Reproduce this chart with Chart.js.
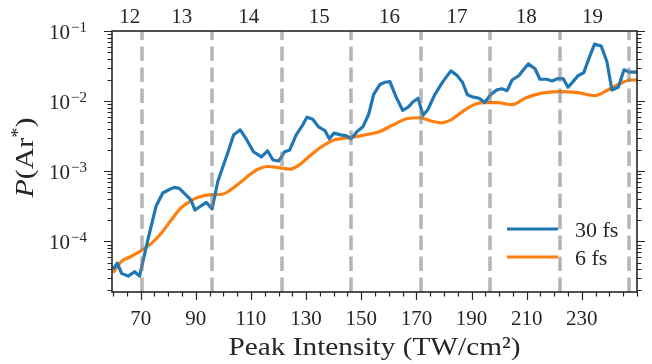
<!DOCTYPE html>
<html>
<head>
<meta charset="utf-8">
<script src="https://cdn.jsdelivr.net/npm/chart.js@4.4.0/dist/chart.umd.min.js"></script>
<style>
  html, body { margin: 0; padding: 0; background: #fff; }
  #wrap { width: 652px; height: 364px; }
</style>
</head>
<body>
<div id="wrap"><canvas id="probChart" width="652" height="364"></canvas></div>
<script>
// Excitation probability P(Ar*) vs peak intensity for two pulse durations

// 30 fs pulse
const intensity30 = [60.0, 61.5, 63.1, 65.5, 67.8, 69.6, 72.6, 75.6, 78.0, 80.4, 82.2, 84.0, 86.4, 88.2, 89.7, 91.8, 93.8, 95.9, 98.0, 101.9,
  103.7, 106.1, 108.5, 110.9, 113.8, 116.0, 118.0, 120.1, 122.2, 124.0, 126.4, 128.8, 130.3, 132.4, 134.5, 136.8, 138.4, 140.1, 142.5, 144.6,
  146.3, 148.5, 150.6, 152.7, 154.5, 156.8, 158.6, 160.4, 162.6, 165.0, 167.0, 168.8, 170.6, 172.4, 174.2, 176.6, 179.6, 182.5, 184.6, 186.7,
  188.5, 190.3, 192.7, 194.8, 196.9, 199.2, 201.0, 202.9, 204.7, 207.1, 208.8, 210.6, 213.0, 214.8, 217.2, 219.2, 221.4, 223.2, 225.0, 226.8,
  228.6, 230.7, 232.4, 234.6, 237.0, 239.1, 240.9, 243.2, 245.3, 247.1, 250.5];
const prob30 = [4.0e-5, 4.9e-5, 3.5e-5, 3.2e-5, 3.7e-5, 3.2e-5, 1.05e-4, 3.2e-4, 4.9e-4, 5.5e-4, 5.9e-4, 5.7e-4, 4.6e-4, 3.9e-4, 2.8e-4, 3.2e-4, 3.6e-4, 2.9e-4, 7.2e-4, 2.0e-3,
  3.3e-3, 3.9e-3, 2.8e-3, 1.9e-3, 1.6e-3, 1.96e-3, 1.45e-3, 1.4e-3, 1.9e-3, 2.0e-3, 3.3e-3, 4.6e-3, 5.9e-3, 5.5e-3, 4.3e-3, 3.8e-3, 2.9e-3, 3.5e-3, 3.3e-3, 3.2e-3,
  2.9e-3, 3.7e-3, 4.3e-3, 6.5e-3, 1.25e-2, 1.73e-2, 1.86e-2, 1.9e-2, 1.15e-2, 7.4e-3, 8.2e-3, 9.8e-3, 1.1e-2, 6.3e-3, 7.6e-3, 1.23e-2, 1.9e-2, 2.7e-2, 2.35e-2, 1.86e-2,
  1.23e-2, 1.15e-2, 1.1e-2, 9.6e-3, 1.23e-2, 1.45e-2, 1.5e-2, 1.41e-2, 2.0e-2, 2.3e-2, 2.8e-2, 3.4e-2, 2.9e-2, 2.05e-2, 2.05e-2, 1.94e-2, 2.1e-2, 2.1e-2, 1.58e-2, 1.9e-2,
  2.3e-2, 2.55e-2, 3.9e-2, 6.5e-2, 6.1e-2, 3.65e-2, 1.44e-2, 1.58e-2, 2.8e-2, 2.6e-2, 2.6e-2];

// 6 fs pulse
const intensity6 = [60.0, 63.1, 66.1, 70.2, 73.8, 77.4, 81.0, 84.6, 88.2, 91.1, 94.7, 99.5, 103.1, 106.7, 109.6, 112.7, 116.2, 120.5, 124.0, 127.3,
  131.3, 135.3, 140.1, 144.9, 149.7, 154.0, 156.8, 161.6, 166.4, 171.2, 175.4, 179.0, 182.5, 186.7, 191.5, 195.1, 199.5, 204.7, 209.4, 215.4,
  221.4, 228.6, 234.6, 239.4, 244.1, 247.7, 250.5];
const prob6 = [3.6e-5, 5.2e-5, 6.0e-5, 7.4e-5, 9.3e-5, 1.3e-4, 2.0e-4, 3.0e-4, 3.8e-4, 4.3e-4, 4.6e-4, 4.7e-4, 5.6e-4, 7.2e-4, 9.0e-4, 1.08e-3, 1.17e-3, 1.12e-3, 1.07e-3, 1.22e-3,
  1.65e-3, 2.2e-3, 2.8e-3, 3.0e-3, 3.2e-3, 3.45e-3, 3.7e-3, 4.6e-3, 5.6e-3, 5.8e-3, 5.2e-3, 4.9e-3, 5.4e-3, 7.1e-3, 9.1e-3, 9.5e-3, 9.5e-3, 8.9e-3, 1.1e-2, 1.3e-2,
  1.37e-2, 1.32e-2, 1.2e-2, 1.44e-2, 1.8e-2, 2.0e-2, 2.0e-2];

const seriesLabels = ['30 fs', '6 fs'];

// axis ticks
const xTickLabels = [70, 90, 110, 130, 150, 170, 190, 210, 230];
const yDecades = [-4, -3, -2, -1];

// channel closings (dashed lines) and photon order labels on the top axis
const channelClosings = [70.6, 95.8, 121.1, 146.2, 171.5, 196.6, 222.2, 247.1];
const photonOrders = ['12', '13', '14', '15', '16', '17', '18', '19'];
const photonOrderPos = [66.0, 84.9, 109.2, 134.8, 160.2, 184.7, 209.8, 233.9];

const X_MIN = 59.6, X_MAX = 250;
const Y_MIN = 1.9e-5, Y_MAX = 0.1;

const BLUE = '#1f77b4';
const ORANGE = '#ff7f0e';
const INK = '#262626';
const SERIF = '"Liberation Serif", "DejaVu Serif", serif';

function toPoints(xs, ys) {
  return xs.map((x, i) => ({ x: x, y: ys[i] }));
}

function logTicks(scale) {
  const ticks = [];
  for (let e = -5; e <= -1; e++) {
    for (let m = 1; m <= 9; m++) {
      const v = m * Math.pow(10, e);
      if (v >= Y_MIN && v <= Y_MAX * 1.0001) ticks.push({ value: v, major: m === 1 });
    }
  }
  scale.ticks = ticks;
}

// draw text squeezed/stretched to a target width
function fillTextWidth(ctx, text, x, y, width) {
  const w = ctx.measureText(text).width;
  ctx.save();
  ctx.translate(x, y);
  ctx.scale(width / w, 1);
  ctx.textAlign = 'center';
  ctx.fillText(text, 0, 0);
  ctx.restore();
}

// frame, tick marks, dashed lines, labels and legend
const decorPlugin = {
  id: 'decor',
  afterDatasetsDraw(chart) {
    const ctx = chart.ctx;
    const area = chart.chartArea;
    const xs = chart.scales.x;
    const ys = chart.scales.y;

    ctx.save();

    // dashed vertical lines (drawn bottom to top)
    ctx.strokeStyle = 'rgba(128,128,128,0.58)';
    ctx.lineWidth = 3.5;
    ctx.setLineDash([14.5, 6.5]);
    channelClosings.forEach(v => {
      const px = Math.round(xs.getPixelForValue(v));
      ctx.beginPath();
      ctx.moveTo(px, area.bottom);
      ctx.lineTo(px, area.top);
      ctx.stroke();
    });
    ctx.setLineDash([]);

    // frame
    ctx.strokeStyle = INK;
    ctx.lineWidth = 1.6;
    ctx.strokeRect(area.left, area.top, area.right - area.left, area.bottom - area.top);

    // tick marks
    ctx.lineWidth = 1.2;
    ctx.beginPath();
    ys.ticks.forEach(t => {
      const py = Math.round(ys.getPixelForValue(t.value)) + 0.5;
      const len = t.major ? 8 : 4.5;
      ctx.moveTo(area.left, py);
      ctx.lineTo(area.left - len, py);
      ctx.moveTo(area.right, py);
      ctx.lineTo(area.right + len, py);
    });
    xs.ticks.forEach(t => {
      const px = Math.round(xs.getPixelForValue(t.value)) + 0.5;
      const len = xTickLabels.includes(t.value) ? 8 : 4.5;
      ctx.moveTo(px, area.bottom);
      ctx.lineTo(px, area.bottom + len);
    });
    ctx.stroke();

    // y tick labels 10^n
    ctx.fillStyle = INK;
    ctx.textBaseline = 'alphabetic';
    yDecades.forEach(e => {
      const py = ys.getPixelForValue(Math.pow(10, e));
      ctx.font = '21px ' + SERIF;
      const baseW = ctx.measureText('10').width;
      ctx.font = '15px ' + SERIF;
      const sup = '\u2212' + Math.abs(e);
      const supW = ctx.measureText(sup).width;
      const left = 68 - (baseW + supW + 1) / 2;
      ctx.font = '21px ' + SERIF;
      ctx.textAlign = 'left';
      ctx.fillText('10', left, py + 8);
      ctx.font = '15px ' + SERIF;
      ctx.fillText(sup, left + baseW + 1, py + 1);
    });

    // x title
    ctx.font = '26px ' + SERIF;
    fillTextWidth(ctx, 'Peak Intensity (TW/cm\u00B2)', (area.left + area.right) / 2, 355, 292);

    // y title: P(Ar*)
    ctx.save();
    ctx.translate(33, (area.top + area.bottom) / 2 - 4);
    ctx.rotate(-Math.PI / 2);
    const parts = [
      { t: 'P', f: 'italic 26px ' + SERIF, dy: 0 },
      { t: '(Ar', f: '26px ' + SERIF, dy: 0 },
      { t: '*', f: '18px ' + SERIF, dy: -9 },
      { t: ')', f: '26px ' + SERIF, dy: 0 }
    ];
    let total = 0;
    parts.forEach(p => { ctx.font = p.f; p.w = ctx.measureText(p.t).width; total += p.w; });
    const stretch = 80 / total;
    ctx.scale(stretch, 1);
    let cx = -total / 2;
    ctx.textAlign = 'left';
    parts.forEach(p => {
      ctx.font = p.f;
      ctx.fillText(p.t, cx, p.dy);
      cx += p.w;
    });
    ctx.restore();

    // legend
    const legendRows = [
      { label: seriesLabels[0], color: BLUE, y: 229 },
      { label: seriesLabels[1], color: ORANGE, y: 257 }
    ];
    ctx.font = '22px ' + SERIF;
    ctx.textAlign = 'left';
    legendRows.forEach(r => {
      ctx.strokeStyle = r.color;
      ctx.lineWidth = 3.2;
      ctx.beginPath();
      ctx.moveTo(507, r.y);
      ctx.lineTo(558, r.y);
      ctx.stroke();
      ctx.fillStyle = INK;
      ctx.fillText(r.label, 575, r.y + 8);
    });

    ctx.restore();
  }
};

const chartConfig = {
  type: 'line',
  data: {
    datasets: [
      {
        label: seriesLabels[0],
        data: toPoints(intensity30, prob30),
        borderColor: BLUE,
        borderWidth: 3.2,
        tension: 0,
        pointRadius: 0,
        borderJoinStyle: 'round',
        fill: false
      },
      {
        label: seriesLabels[1],
        data: toPoints(intensity6, prob6),
        borderColor: ORANGE,
        borderWidth: 3.2,
        cubicInterpolationMode: 'monotone',
        pointRadius: 0,
        borderJoinStyle: 'round',
        fill: false
      }
    ]
  },
  options: {
    responsive: false,
    animation: false,
    devicePixelRatio: 1,
    layout: { padding: 0 },
    plugins: {
      legend: { display: false },
      tooltip: { enabled: false }
    },
    scales: {
      x: {
        type: 'linear',
        position: 'bottom',
        min: X_MIN,
        max: X_MAX,
        grid: { display: false, drawTicks: false },
        border: { display: false },
        afterBuildTicks: scale => {
          const ticks = [];
          for (let v = 60; v <= 250; v += 5) ticks.push({ value: v });
          scale.ticks = ticks;
        },
        afterFit: scale => { scale.height = 72; },
        ticks: {
          autoSkip: false,
          maxRotation: 0,
          padding: 15,
          color: INK,
          font: { family: SERIF, size: 21 },
          callback: value => (xTickLabels.includes(value) ? String(value) : '')
        }
      },
      x2: {
        type: 'linear',
        position: 'top',
        min: X_MIN,
        max: X_MAX,
        grid: { display: false, drawTicks: false },
        border: { display: false },
        afterBuildTicks: scale => {
          scale.ticks = photonOrderPos.map(v => ({ value: v }));
        },
        afterFit: scale => { scale.height = 31; },
        ticks: {
          autoSkip: false,
          maxRotation: 0,
          padding: 1,
          color: INK,
          font: { family: SERIF, size: 21 },
          callback: (value, index) => photonOrders[index]
        }
      },
      y: {
        type: 'logarithmic',
        position: 'left',
        min: Y_MIN,
        max: Y_MAX,
        grid: { display: false, drawTicks: false },
        border: { display: false },
        afterBuildTicks: logTicks,
        afterFit: scale => { scale.width = 112; },
        ticks: { display: false }
      },
      y2: {
        type: 'logarithmic',
        position: 'right',
        min: Y_MIN,
        max: Y_MAX,
        grid: { display: false, drawTicks: false },
        border: { display: false },
        afterBuildTicks: logTicks,
        afterFit: scale => { scale.width = 7; },
        ticks: { display: false }
      }
    }
  },
  plugins: [decorPlugin]
};

const probChart = new Chart(document.getElementById('probChart'), chartConfig);
</script>
</body>
</html>
